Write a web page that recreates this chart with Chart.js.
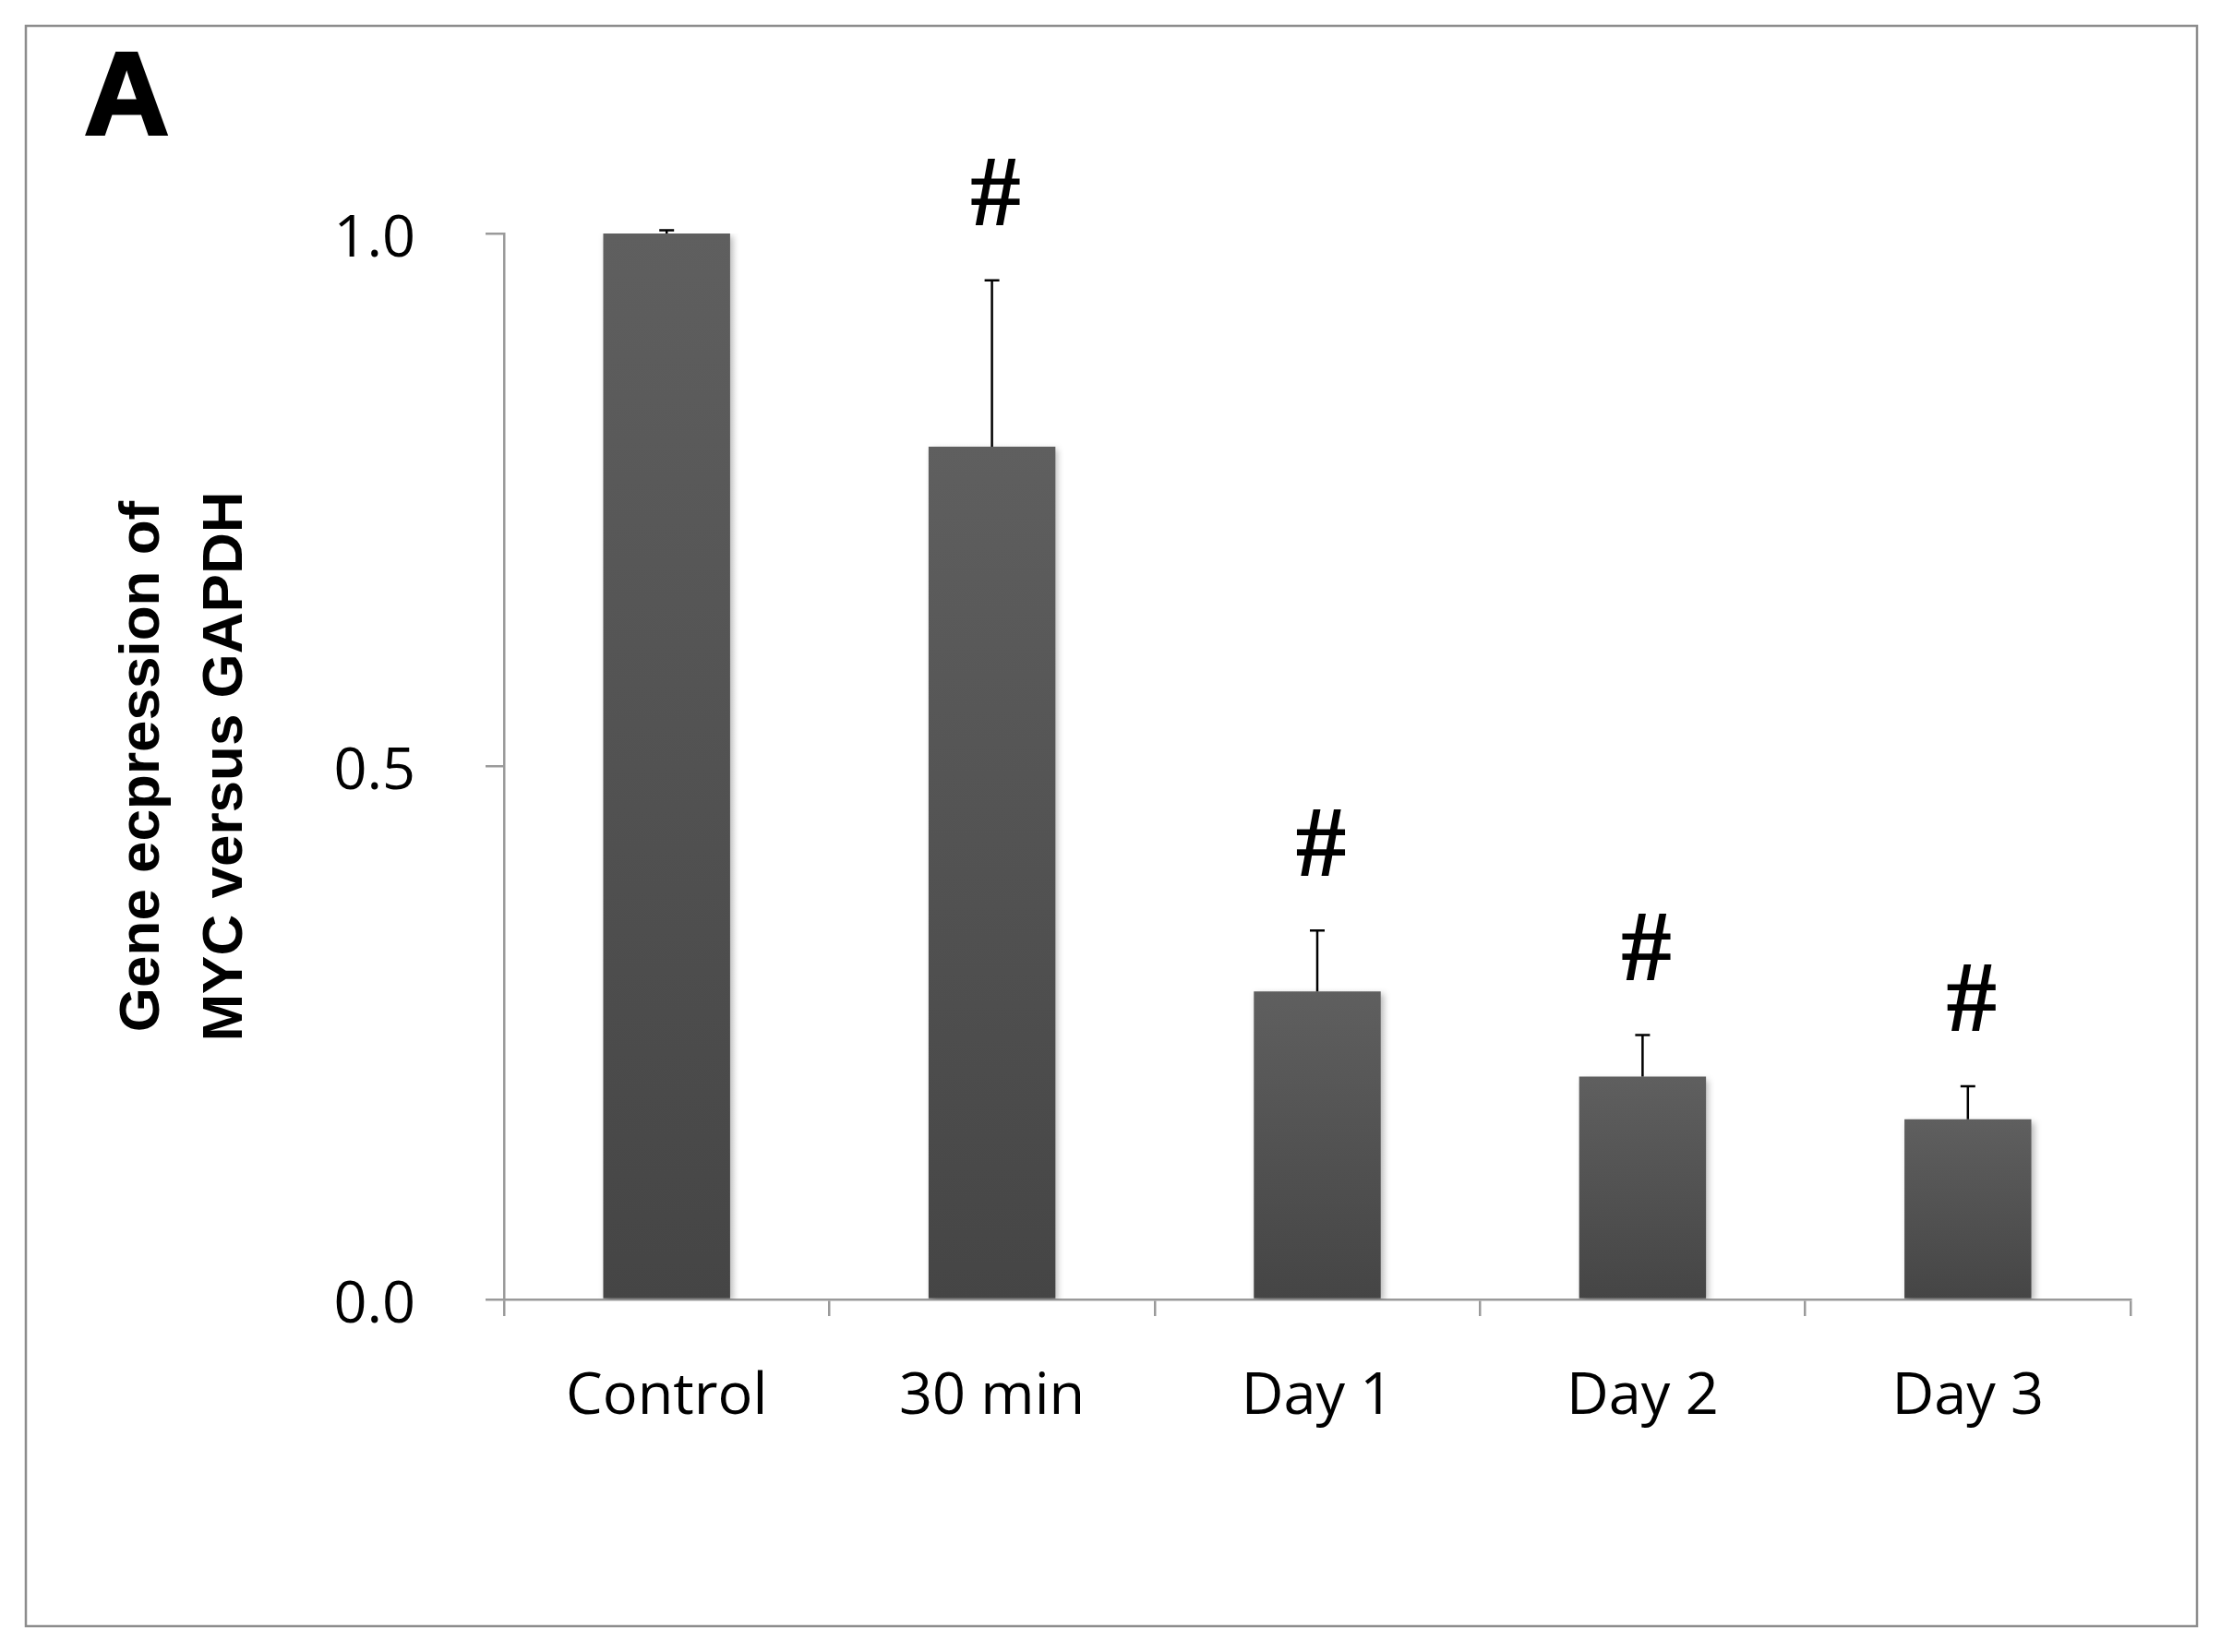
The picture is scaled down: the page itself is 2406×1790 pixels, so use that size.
<!DOCTYPE html>
<html>
<head>
<meta charset="utf-8">
<script src="https://cdn.jsdelivr.net/npm/chart.js@4.4.0/dist/chart.umd.min.js"></script>
<style>
    html, body { margin: 0; padding: 0; background: #fff; }
    canvas { display: block; }
</style>
</head>
<body>
<canvas id="mycChart" width="2406" height="1790"></canvas>
<script>
// Data
const categories = ['Control', '30 min', 'Day 1', 'Day 2', 'Day 3'];
const expression = [1.0, 0.80, 0.289, 0.209, 0.169];
const errorUp = [0.003, 0.156, 0.057, 0.039, 0.031];
const marks = ['', '#', '#', '#', '#'];
const yTicks = [0, 0.5, 1.0];

const axisGray = '#9a9a9a';

// Frame, panel letter, error bars and significance marks
const decorations = {
    id: 'decorations',
    beforeDraw(chart) {
        const ctx = chart.ctx;
        ctx.save();
        ctx.fillStyle = '#fff';
        ctx.fillRect(0, 0, chart.width, chart.height);
        ctx.strokeStyle = '#8c8c8c';
        ctx.lineWidth = 2.5;
        ctx.strokeRect(28, 28, 2352, 1734);
        ctx.restore();
    },
    beforeDatasetsDraw(chart) {
        const ctx = chart.ctx;
        ctx.save();
        ctx.shadowColor = 'rgba(0, 0, 0, 0.28)';
        ctx.shadowBlur = 7;
        ctx.shadowOffsetX = 3;
        ctx.shadowOffsetY = 3;
    },
    afterDatasetsDraw(chart) {
        const ctx = chart.ctx;
        ctx.restore();
        const y = chart.scales.y;
        const meta = chart.getDatasetMeta(0);
        ctx.save();
        ctx.strokeStyle = '#000';
        ctx.lineWidth = 2.5;
        meta.data.forEach((bar, i) => {
            const yVal = y.getPixelForValue(expression[i]);
            const yErr = y.getPixelForValue(expression[i] + errorUp[i]);
            ctx.beginPath();
            ctx.moveTo(bar.x, yVal);
            ctx.lineTo(bar.x, yErr);
            ctx.moveTo(bar.x - 8, yErr);
            ctx.lineTo(bar.x + 8, yErr);
            ctx.stroke();

            if (marks[i]) {
                ctx.fillStyle = '#000';
                ctx.font = 'bold 110px "Liberation Serif"';
                ctx.textAlign = 'center';
                ctx.textBaseline = 'middle';
                ctx.fillText(marks[i], bar.x + 4, yErr - 88);
            }
        });
        ctx.restore();
    },
    afterDraw(chart) {
        const ctx = chart.ctx;
        ctx.save();
        ctx.fillStyle = '#000';
        ctx.strokeStyle = '#000';
        ctx.lineWidth = 3;
        ctx.font = 'bold 128px "Liberation Sans"';
        ctx.textAlign = 'left';
        ctx.textBaseline = 'alphabetic';
        ctx.fillText('A', 91, 146);
        ctx.strokeText('A', 91, 146);
        ctx.restore();
    }
};

const ctx = document.getElementById('mycChart').getContext('2d');

const mycChart = new Chart(ctx, {
    type: 'bar',
    data: {
        labels: categories,
        datasets: [{
            label: 'MYC',
            data: expression,
            backgroundColor: function(context) {
                const chart = context.chart;
                const { chartArea, scales } = chart;
                if (!chartArea || context.type !== 'data') return '#555';
                const top = scales.y.getPixelForValue(context.raw);
                const base = scales.y.getPixelForValue(0);
                const g = chart.ctx.createLinearGradient(0, top, 0, base);
                g.addColorStop(0, '#5f5f5f');
                g.addColorStop(1, '#454545');
                return g;
            },
            borderWidth: 0,
            barPercentage: 0.39,
            categoryPercentage: 1.0
        }]
    },
    options: {
        responsive: false,
        devicePixelRatio: 1,
        animation: false,
        events: [],
        layout: {
            padding: { left: 0, right: 98, top: 253, bottom: 182 }
        },
        plugins: {
            legend: { display: false },
            tooltip: { enabled: false }
        },
        scales: {
            y: {
                min: 0,
                max: 1,
                afterFit: function(scale) { scale.width = 546; },
                afterBuildTicks: function(scale) {
                    scale.ticks = yTicks.map(v => ({ value: v }));
                },
                ticks: {
                    padding: 76,
                    labelOffset: 7,
                    color: '#000',
                    font: { family: '"Open Sans"', size: 63 },
                    callback: function(value) { return value.toFixed(1); }
                },
                grid: {
                    drawOnChartArea: false,
                    drawTicks: true,
                    tickLength: 20,
                    color: axisGray,
                    lineWidth: 2.5
                },
                border: { color: axisGray, width: 2.5 },
                title: {
                    display: true,
                    text: ['Gene ecpression of', 'MYC versus GAPDH'],
                    color: '#000',
                    padding: { top: 110, bottom: 0 },
                    font: { family: '"Liberation Sans"', size: 62, weight: 'bold', lineHeight: 1.45 }
                }
            },
            x: {
                afterFit: function(scale) { scale.height = 200; },
                ticks: {
                    padding: 50,
                    color: '#000',
                    font: { family: '"Open Sans"', size: 63 }
                },
                grid: {
                    offset: true,
                    drawOnChartArea: false,
                    drawTicks: true,
                    tickLength: 18,
                    color: axisGray,
                    lineWidth: 2.5
                },
                border: { color: axisGray, width: 2.5 }
            }
        }
    },
    plugins: [decorations]
});
</script>
</body>
</html>
